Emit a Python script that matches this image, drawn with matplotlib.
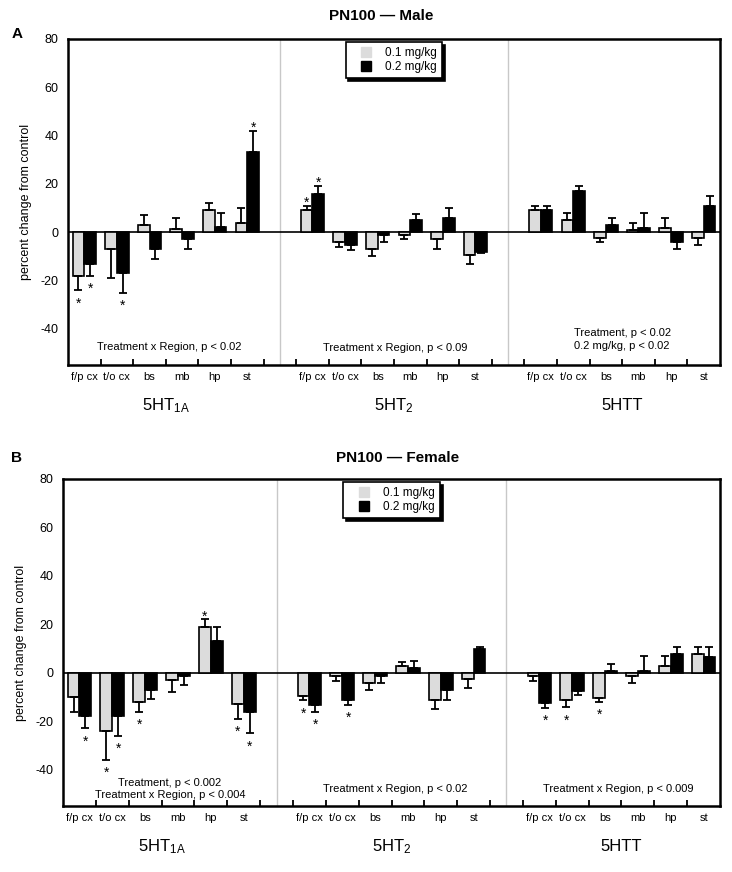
import matplotlib
matplotlib.use("Agg")
import matplotlib.pyplot as plt
from matplotlib.lines import Line2D
import numpy as np

plt.rcParams['font.family'] = ['Liberation Sans', 'DejaVu Sans']
plt.rcParams['mathtext.fontset'] = 'custom'
plt.rcParams['mathtext.rm'] = 'Liberation Sans'
plt.rcParams['mathtext.it'] = 'Liberation Sans:italic'
plt.rcParams['axes.unicode_minus'] = False

regions = ['f/p cx', 't/o cx', 'bs', 'mb', 'hp', 'st']
receptors = ['5HT$_{\\mathrm{1A}}$', '5HT$_{\\mathrm{2}}$', '5HTT']
doses = ['0.1 mg/kg', '0.2 mg/kg']

# PN100 male: 3 receptors x 6 regions
male_low = [-18, -7, 3, 1.2, 9, 4,
            9, -4, -7, -1, -3, -9.4,
            9, 5, -2.3, 0.8, 1.8, -2.2]
male_low_err = [6, 12, 4, 4.8, 3, 6,
                2, 2, 3, 2, 4, 3.7,
                2, 3, 1.8, 3, 4, 3]
male_high = [-13, -17, -7, -3, 2, 33,
             16, -5.4, -1, 5, 6, -8.3,
             9, 17, 2.8, 1.8, -4, 11]
male_high_err = [5, 8, 4, 4, 6, 9,
                 3, 1.8, 3, 2.7, 4, 0.5,
                 2, 2, 3, 6, 3, 4]
male_low_sig = [1, 0, 0, 0, 0, 0,
                1, 0, 0, 0, 0, 0,
                0, 0, 0, 0, 0, 0]
male_high_sig = [1, 1, 0, 0, 0, 1,
                 1, 0, 0, 0, 0, 0,
                 0, 0, 0, 0, 0, 0]
male_notes = ['Treatment x Region, p < 0.02',
              'Treatment x Region, p < 0.09',
              'Treatment, p < 0.02\n0.2 mg/kg, p < 0.02']

# PN100 female
female_low = [-10, -24, -12, -3, 19, -13,
              -9.4, -1.4, -4.3, 2.6, -11.3, -2.5,
              -1.2, -11.3, -10.3, -1.4, 2.8, 7.7]
female_low_err = [6, 12, 4, 5, 3, 6,
                  2, 1.8, 2.9, 2, 3.8, 3.8,
                  2, 3, 1.8, 3, 4, 3]
female_high = [-18, -18, -7, -1.4, 13, -16,
               -13.3, -11.4, -1.4, 1.8, -7.3, 9.8,
               -12.4, -7.4, 0.8, 0.8, 7.7, 6.7]
female_high_err = [5, 8, 4, 3.8, 6, 9,
                   2.8, 1.8, 2.9, 3, 4, 1,
                   2, 1.8, 3, 6, 3, 4]
female_low_sig = [0, 1, 1, 0, 1, 1,
                  1, 0, 0, 0, 0, 0,
                  0, 1, 1, 0, 0, 0]
female_high_sig = [1, 1, 0, 0, 0, 1,
                   1, 1, 0, 0, 0, 0,
                   1, 0, 0, 0, 0, 0]
female_notes = ['Treatment, p < 0.002\nTreatment x Region, p < 0.004',
                'Treatment x Region, p < 0.02',
                'Treatment x Region, p < 0.009']


def one_sided(vals, errs):
    vals = np.array(vals, dtype=float)
    errs = np.array(errs, dtype=float)
    return [np.where(vals < 0, errs, 0), np.where(vals >= 0, errs, 0)]


def draw_panel(ax, low, low_err, high, high_err, low_sig, high_sig, notes, note_pos):
    # slot 6 and 13 are gaps between receptor groups
    centers = np.array([g * 7 + r for g in range(3) for r in range(6)]) + 0.5
    w = 0.36
    colors = ['#dcdcdc', 'black']
    series = [(low, low_err, low_sig), (high, high_err, high_sig)]
    for k, (vals, errs, sig) in enumerate(series):
        x = centers + (k - 0.5) * w
        ax.bar(x, vals, w, color=colors[k], edgecolor='black', linewidth=1.2, zorder=3)
        ax.errorbar(x, vals, yerr=one_sided(vals, errs), fmt='none', ecolor='black',
                    elinewidth=1.3, capsize=3.2, capthick=1.3, zorder=4)
        for i in range(len(vals)):
            if sig[i]:
                if vals[i] < 0:
                    end = vals[i] - errs[i]
                    off = -9.5
                else:
                    end = vals[i] + errs[i]
                    off = 2.2
                ax.annotate('*', (x[i], end), xytext=(0, off), textcoords='offset points',
                            ha='center', va='center', fontsize=10, zorder=5)

    ax.axhline(0, color='black', lw=1.2, zorder=2)
    for s in [6.5, 13.5]:
        ax.axvline(s, color='#c8c8c8', lw=1, zorder=1)

    ax.set_xlim(0, 20)
    ax.set_ylim(-55, 80)
    ax.set_yticks([-40, -20, 0, 20, 40, 60, 80])
    ax.tick_params(axis='y', length=0, pad=7, labelsize=9)
    ax.set_xticks(np.arange(1, 20))
    ax.set_xticklabels([])
    ax.set_xticks(centers, minor=True)
    ax.set_xticklabels(regions * 3, minor=True, fontsize=8)
    ax.tick_params(axis='x', which='major', direction='in', length=4, width=1.3)
    ax.tick_params(axis='x', which='minor', length=0, pad=5)
    for sp in ax.spines.values():
        sp.set_linewidth(1.8)

    for g in range(3):
        ax.text(g * 7 + 3, -0.125, receptors[g], transform=ax.get_xaxis_transform(),
                ha='center', va='center', fontsize=12)
        nx, ny = note_pos[g]
        ax.text(nx, ny, notes[g], ha='center', va='center', fontsize=8,
                linespacing=1.3, zorder=5)

    ax.set_ylabel('percent change from control', fontsize=9, labelpad=6)
    handles = [Line2D([], [], ls='none', marker='s', ms=7, color=colors[k],
                      mec=colors[k]) for k in range(2)]
    leg = ax.legend(handles, doses, loc='upper center', bbox_to_anchor=(0.5, 1.0),
                    borderaxespad=0.25, fontsize=8.5, fancybox=False, framealpha=1,
                    edgecolor='black', handlelength=2.6, handletextpad=0.3,
                    labelspacing=0.15, borderpad=0.45,
                    shadow={'color': 'black', 'alpha': 1})
    leg.get_frame().set_linewidth(1.2)
    leg.set_zorder(6)


fig = plt.figure(figsize=(7.32, 8.72), dpi=100)
ax1 = fig.add_axes([0.0929, 0.5814, 0.8907, 0.3739])
ax2 = fig.add_axes([0.0861, 0.0757, 0.8975, 0.375])

draw_panel(ax1, male_low, male_low_err, male_high, male_high_err,
           male_low_sig, male_high_sig, male_notes,
           [(3.1, -47.7), (10.05, -48), (17, -44.5)])
draw_panel(ax2, female_low, female_low_err, female_high, female_high_err,
           female_low_sig, female_high_sig, female_notes,
           [(3.25, -48), (10.1, -48), (16.9, -48)])

fig.text(381 / 732, 1 - 16 / 872, 'PN100 \u2014 Male', ha='center', va='center',
         fontsize=11, fontweight='bold')
fig.text(398 / 732, 1 - 458 / 872, 'PN100 \u2014 Female', ha='center', va='center',
         fontsize=11, fontweight='bold')
fig.text(17 / 732, 1 - 34 / 872, 'A', ha='center', va='center', fontsize=11, fontweight='bold')
fig.text(17 / 732, 1 - 458 / 872, 'B', ha='center', va='center', fontsize=11, fontweight='bold')

fig.savefig('out.png', dpi=100)
